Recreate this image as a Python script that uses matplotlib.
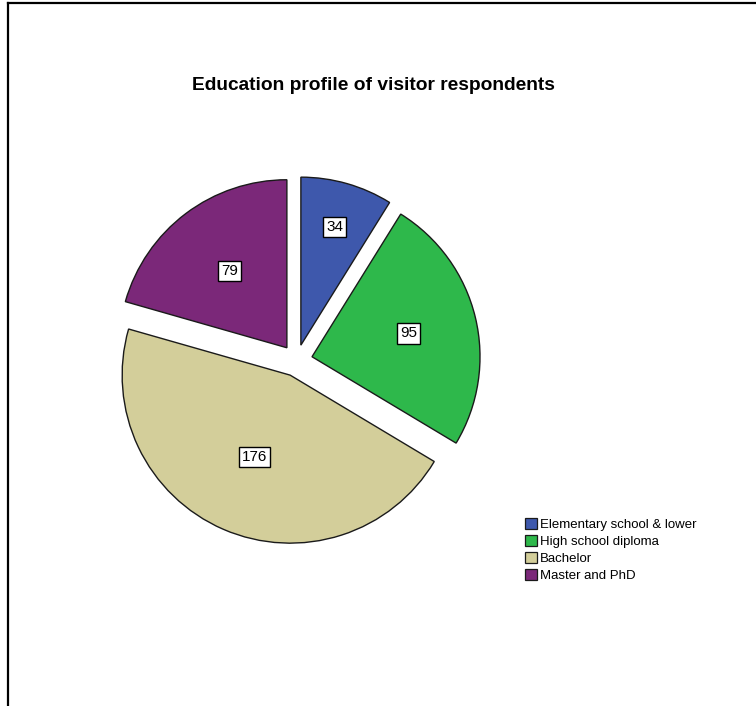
import numpy as np
import matplotlib.pyplot as plt
from matplotlib.lines import Line2D
from matplotlib.patches import Patch

plt.rcParams['font.family'] = ['Liberation Sans', 'DejaVu Sans']

# Education levels of the surveyed visitors
categories = ['Elementary school & lower', 'High school diploma', 'Bachelor', 'Master and PhD']
counts = [34, 95, 176, 79]
colors = ['#3E58AC', '#2EB84B', '#D3CE9A', '#7B2879']
# how far from the wedge apex each count box sits (fraction of radius)
label_dist = [0.73, 0.59, 0.53, 0.57]

W, H = 756, 706
fig = plt.figure(figsize=(W / 100, H / 100), dpi=100)

# pie axes: centre at (296.5, 360.5) px, radius 168 px
cx, cy, r = 296.5, 360.5, 168.0
half = 200.0
ax = fig.add_axes([(cx - half) / W, (H - cy - half) / H, 2 * half / W, 2 * half / H])

explode = [0.095] * len(counts)
wedges, _ = ax.pie(counts, colors=colors, explode=explode, startangle=90,
                   counterclock=False, radius=1.0,
                   wedgeprops=dict(edgecolor='#1a1a1a', linewidth=1.0))

for w, n, d in zip(wedges, counts, label_dist):
    mid = np.deg2rad((w.theta1 + w.theta2) / 2)
    ox, oy = w.center
    ax.text(ox + d * np.cos(mid), oy + d * np.sin(mid), str(n),
            ha='center', va='center', fontsize=11,
            bbox=dict(boxstyle='square,pad=0.2', facecolor='white',
                      edgecolor='black', linewidth=1.0))

lim = half / r
ax.set_xlim(-lim, lim)
ax.set_ylim(-lim, lim)
ax.set_aspect('equal')
ax.axis('off')

fig.text(373 / W, 1 - 85 / H, 'Education profile of visitor respondents',
         ha='center', va='center', fontsize=13.8, fontweight='bold')

handles = [Patch(facecolor=c, edgecolor='#1a1a1a', linewidth=0.9) for c in colors]
fig.legend(handles, categories, loc='upper left',
           bbox_to_anchor=(525 / W, 1 - 518 / H), frameon=False,
           fontsize=9.5, handlelength=0.9, handleheight=0.95,
           handletextpad=0.25, labelspacing=0.28, borderpad=0, borderaxespad=0)

# frame lines along the left and top edges
fig.add_artist(Line2D([8 / W, 8 / W], [0, 1 - 3 / H], color='black', linewidth=1.6))
fig.add_artist(Line2D([8 / W, 1], [1 - 3 / H, 1 - 3 / H], color='black', linewidth=1.6))

fig.savefig('out.png', dpi=100)
